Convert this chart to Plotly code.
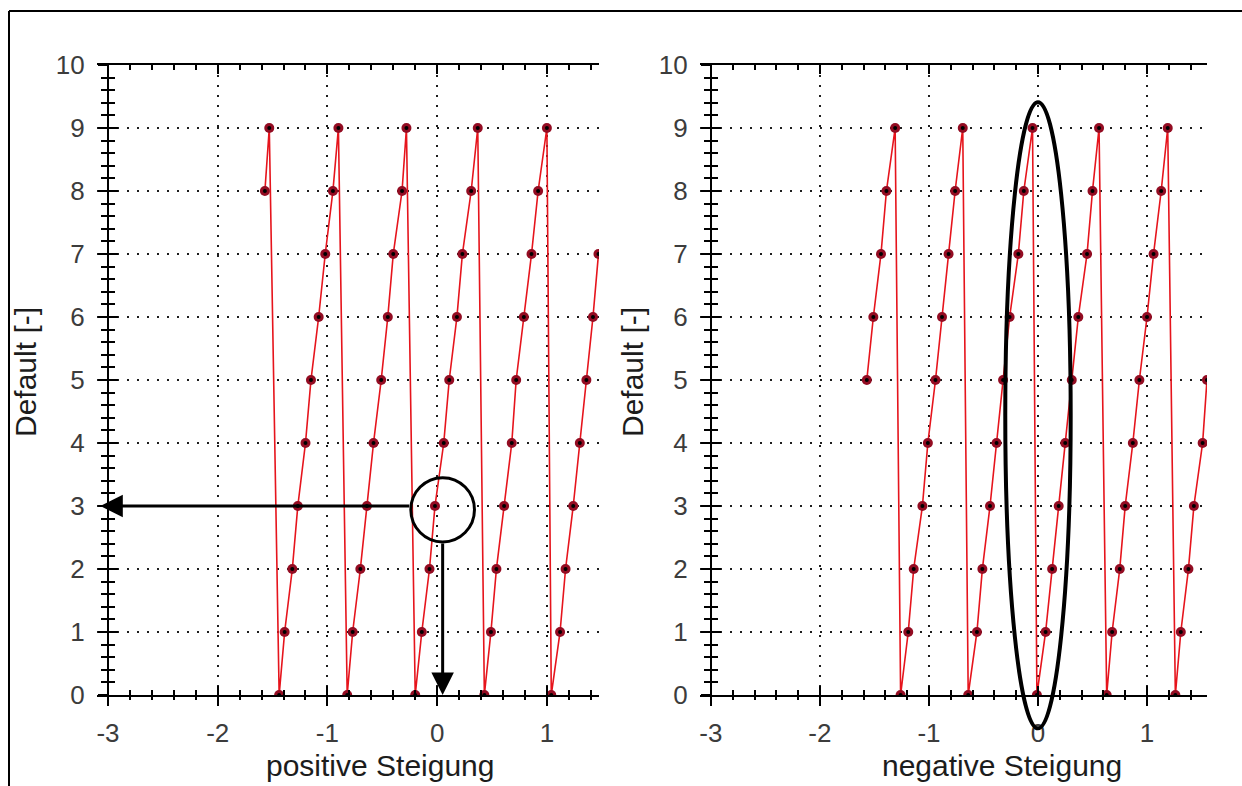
import plotly.graph_objects as go

# ---- data -------------------------------------------------------------
# positive slope: estimated x position for each default count 0..9
pos_x = [-1.57, -1.53,
         -1.44, -1.39, -1.32, -1.27, -1.20, -1.15, -1.08, -1.02, -0.95, -0.90,
         -0.82, -0.77, -0.70, -0.64, -0.58, -0.51, -0.45, -0.40, -0.32, -0.28,
         -0.20, -0.14, -0.07, -0.02, 0.06, 0.11, 0.18, 0.23, 0.31, 0.37,
         0.43, 0.49, 0.54, 0.61, 0.68, 0.72, 0.79, 0.86, 0.92, 1.00,
         1.04, 1.12, 1.17, 1.24, 1.30, 1.36, 1.42, 1.47]
pos_y = [8, 9,
         0, 1, 2, 3, 4, 5, 6, 7, 8, 9,
         0, 1, 2, 3, 4, 5, 6, 7, 8, 9,
         0, 1, 2, 3, 4, 5, 6, 7, 8, 9,
         0, 1, 2, 3, 4, 5, 6, 7, 8, 9,
         0, 1, 2, 3, 4, 5, 6, 7]

# negative slope
neg_x = [-1.57, -1.51, -1.44, -1.39, -1.31,
         -1.26, -1.19, -1.14, -1.06, -1.01, -0.94, -0.88, -0.82, -0.76, -0.69,
         -0.64, -0.56, -0.51, -0.44, -0.38, -0.32, -0.26, -0.18, -0.13, -0.05,
         -0.01, 0.07, 0.13, 0.19, 0.25, 0.31, 0.37, 0.45, 0.50, 0.56,
         0.63, 0.68, 0.75, 0.80, 0.87, 0.93, 1.00, 1.06, 1.13, 1.19,
         1.26, 1.31, 1.38, 1.43, 1.51, 1.55]
neg_y = [5, 6, 7, 8, 9,
         0, 1, 2, 3, 4, 5, 6, 7, 8, 9,
         0, 1, 2, 3, 4, 5, 6, 7, 8, 9,
         0, 1, 2, 3, 4, 5, 6, 7, 8, 9,
         0, 1, 2, 3, 4, 5, 6, 7, 8, 9,
         0, 1, 2, 3, 4, 5]

x_tick_vals = [-3, -2, -1, 0, 1]
x_tick_text = ["-3", "-2", "-1", "0", "1"]
y_tick_vals = [0, 1, 2, 3, 4, 5, 6, 7, 8, 9, 10]
y_tick_text = ["0", "1", "2", "3", "4", "5", "6", "7", "8", "9", "10"]

x_title_left = "positive Steigung"
x_title_right = "negative Steigung"
y_title = "Default [-]"

# ---- geometry ---------------------------------------------------------
W, H = 1242, 786
X_RANGE_L = [-3.10, 1.475]
X_RANGE_R = [-3.10, 1.55]
Y_RANGE = [0, 10]
DOM_L = [0.0781, 0.4823]
DOM_R = [0.5636, 0.9718]
DOM_Y = [0.1158, 0.9173]
Y_AXIS_AT = -3  # vertical axis sits on x = -3


def paper_x(val, rng, dom):
    return dom[0] + (val - rng[0]) / (rng[1] - rng[0]) * (dom[1] - dom[0])


def y_domain_frac(val):
    return (val - Y_RANGE[0]) / (Y_RANGE[1] - Y_RANGE[0])


FONT = "Liberation Sans, Arial, sans-serif"
tick_font = dict(family=FONT, size=26, color="#3c3c3c")
title_font = dict(family=FONT, size=30, color="#1c1c1c")
LINE_RED = "#e6141c"
DOT_RED = "#930c22"


def x_main(dom, rng):
    return dict(domain=dom, range=rng, anchor=None, showline=True, linecolor="black",
                linewidth=2, mirror="ticks", ticks="inside", ticklen=9, tickwidth=2,
                tickcolor="black", tickmode="array", tickvals=x_tick_vals,
                ticktext=x_tick_text, tickfont=tick_font, ticklabelstandoff=14,
                showgrid=True, gridcolor="#1e1e1e", gridwidth=2, griddash="2px,8px",
                zeroline=False, fixedrange=True,
                minor=dict(ticks="inside", ticklen=5, tickwidth=2, tickcolor="black",
                           tickmode="linear", tick0=0, dtick=0.2, showgrid=False))


def x_cross(base, rng):
    return dict(overlaying=base, range=rng, showline=False, ticks="outside", ticklen=10,
                tickwidth=2, tickcolor="black", tickmode="array", tickvals=x_tick_vals,
                showticklabels=False, showgrid=False, zeroline=False, fixedrange=True,
                minor=dict(ticks="outside", ticklen=4, tickwidth=2, tickcolor="black",
                           tickmode="linear", tick0=0, dtick=0.2, showgrid=False))


def y_main(pos):
    return dict(domain=DOM_Y, range=Y_RANGE, anchor="free", position=pos, showline=True,
                linecolor="black", linewidth=2, ticks="outside", ticklen=9, tickwidth=2,
                tickcolor="black", tickmode="array", tickvals=y_tick_vals,
                ticktext=y_tick_text, tickfont=tick_font, ticklabelstandoff=8,
                showgrid=True, gridcolor="#1e1e1e", gridwidth=2, griddash="2px,8px",
                zeroline=False, fixedrange=True,
                minor=dict(ticks="outside", ticklen=6, tickwidth=2, tickcolor="black",
                           tickmode="linear", tick0=0, dtick=0.2, showgrid=False))


def y_cross(base, pos):
    return dict(overlaying=base, range=Y_RANGE, anchor="free", position=pos,
                showline=False, ticks="inside", ticklen=9, tickwidth=2, tickcolor="black",
                tickmode="array", tickvals=y_tick_vals, showticklabels=False,
                showgrid=False, zeroline=False, fixedrange=True,
                minor=dict(ticks="inside", ticklen=6, tickwidth=2, tickcolor="black",
                           tickmode="linear", tick0=0, dtick=0.2, showgrid=False))


pos_left = paper_x(Y_AXIS_AT, X_RANGE_L, DOM_L)
pos_right = paper_x(Y_AXIS_AT, X_RANGE_R, DOM_R)

fig = go.Figure()


def add_series(xs, ys, xa, ya):
    fig.add_trace(go.Scatter(x=xs, y=ys, xaxis=xa, yaxis=ya, mode="lines+markers",
                             line=dict(color=LINE_RED, width=1.6),
                             marker=dict(size=10, color=DOT_RED, line=dict(width=0)),
                             showlegend=False, hoverinfo="skip"))
    fig.add_trace(go.Scatter(x=xs, y=ys, xaxis=xa, yaxis=ya, mode="markers",
                             marker=dict(size=4, color="black"),
                             showlegend=False, hoverinfo="skip"))


add_series(pos_x, pos_y, "x", "y")
add_series(neg_x, neg_y, "x2", "y2")

# empty traces so the tick-only overlay axes get their own subplots
for xa, ya in [("x3", "y"), ("x", "y3"), ("x4", "y2"), ("x2", "y4")]:
    fig.add_trace(go.Scatter(x=[], y=[], xaxis=xa, yaxis=ya, showlegend=False,
                             hoverinfo="skip"))

xl = x_main(DOM_L, X_RANGE_L); xl["anchor"] = "y"
xr = x_main(DOM_R, X_RANGE_R); xr["anchor"] = "y2"
x3 = x_cross("x", X_RANGE_L); x3["anchor"] = "y"
x4 = x_cross("x2", X_RANGE_R); x4["anchor"] = "y2"

# ---- highlight marks --------------------------------------------------
CIRCLE_X, CIRCLE_Y = 0.05, 2.94
CIRCLE_RX, CIRCLE_RY = 0.29, 0.51
ELLIPSE_X, ELLIPSE_Y = 0.0, 4.44
ELLIPSE_RX, ELLIPSE_RY = 0.30, 4.97

shapes = [
    # outer frame
    dict(type="line", xref="paper", yref="paper", x0=9 / W, x1=1.0,
         y0=1 - 11 / H, y1=1 - 11 / H, line=dict(color="black", width=2)),
    dict(type="line", xref="paper", yref="paper", x0=9 / W, x1=9 / W,
         y0=1 - 11 / H, y1=0, line=dict(color="black", width=2)),
    dict(type="circle", xref="x", yref="y",
         x0=CIRCLE_X - CIRCLE_RX, x1=CIRCLE_X + CIRCLE_RX,
         y0=CIRCLE_Y - CIRCLE_RY, y1=CIRCLE_Y + CIRCLE_RY,
         line=dict(color="black", width=3)),
    dict(type="circle", xref="x2", yref="y2 domain",
         x0=ELLIPSE_X - ELLIPSE_RX, x1=ELLIPSE_X + ELLIPSE_RX,
         y0=y_domain_frac(ELLIPSE_Y - ELLIPSE_RY), y1=y_domain_frac(ELLIPSE_Y + ELLIPSE_RY),
         line=dict(color="black", width=4)),
]

annotations = [
    # arrow to the vertical axis
    dict(x=-3.07, y=3, ax=CIRCLE_X - CIRCLE_RX, ay=3, xref="x", yref="y",
         axref="x", ayref="y", text="", showarrow=True, arrowhead=2, arrowsize=1.5,
         arrowwidth=3, arrowcolor="black", standoff=0, startstandoff=0),
    # arrow down to the horizontal axis
    dict(x=CIRCLE_X, y=0.0, ax=CIRCLE_X, ay=CIRCLE_Y - CIRCLE_RY, xref="x", yref="y",
         axref="x", ayref="y", text="", showarrow=True, arrowhead=2, arrowsize=1.5,
         arrowwidth=3, arrowcolor="black", standoff=0, startstandoff=0),
    dict(x=381 / W, y=1 - 765 / H, xref="paper", yref="paper", text=x_title_left,
         showarrow=False, font=title_font, xanchor="center", yanchor="middle"),
    dict(x=1002 / W, y=1 - 765 / H, xref="paper", yref="paper", text=x_title_right,
         showarrow=False, font=title_font, xanchor="center", yanchor="middle"),
    dict(x=25 / W, y=1 - 372 / H, xref="paper", yref="paper", text=y_title,
         showarrow=False, font=title_font, textangle=-90, xanchor="center",
         yanchor="middle"),
    dict(x=632 / W, y=1 - 372 / H, xref="paper", yref="paper", text=y_title,
         showarrow=False, font=title_font, textangle=-90, xanchor="center",
         yanchor="middle"),
]

fig.update_layout(
    width=W, height=H, margin=dict(l=0, r=0, t=0, b=0, autoexpand=False),
    paper_bgcolor="white", plot_bgcolor="white", showlegend=False,
    xaxis=xl, xaxis2=xr, xaxis3=x3, xaxis4=x4,
    yaxis=y_main(pos_left), yaxis2=y_main(pos_right),
    yaxis3=y_cross("y", pos_left), yaxis4=y_cross("y2", pos_right),
    shapes=shapes, annotations=annotations,
)

fig.write_html("out.html", config={"displayModeBar": False})
